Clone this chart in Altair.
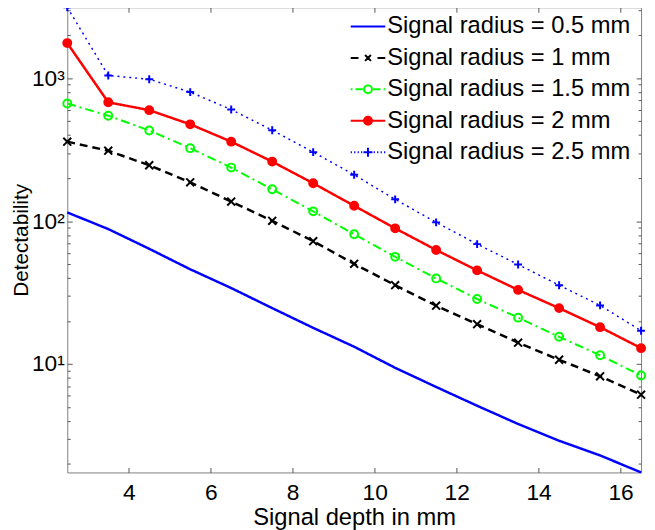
import altair as alt
import pandas as pd

depth = [2.5, 3.5, 4.5, 5.5, 6.5, 7.5, 8.5, 9.5, 10.5, 11.5, 12.5, 13.5, 14.5, 15.5, 16.5]
labels = ["Signal radius = 0.5 mm", "Signal radius = 1 mm", "Signal radius = 1.5 mm",
          "Signal radius = 2 mm", "Signal radius = 2.5 mm"]
r05 = [115, 88, 64, 46, 34, 24.6, 17.9, 13.2, 9.4, 6.9, 5.1, 3.8, 2.9, 2.29, 1.74]
r10 = [360, 311, 246, 187, 137, 100.5, 72.4, 50.2, 35.6, 25.6, 19.0, 14.1, 10.7, 8.2, 6.1]
r15 = [666, 547, 431, 324, 237, 167, 117, 80.9, 56.2, 39.7, 28.5, 21.1, 15.5, 11.5, 8.3]
r20 = [1763, 679, 598, 476, 360, 261, 184, 128, 89, 62.8, 45.2, 33, 24.6, 18.1, 12.9]
r25 = [3140, 1045, 985, 800, 604, 433, 304, 211, 142, 98, 69, 49.7, 35.6, 25.7, 17.1]

series_values = [r05, r10, r15, r20, r25]
colors = ["#0000ff", "#000000", "#00ff00", "#ff0000", "#0000ff"]
dashes = [[1, 0], [8, 5], [9, 4, 2, 4], [1, 0], [2, 4]]
widths = [2.5, 2.5, 2, 2.5, 1.5]
fills = ["transparent", "transparent", "transparent", "#ff0000", "transparent"]

# marker glyphs (unit box -1..1)
X_MARK = "M-1,-1L1,1M-1,1L1,-1"
PLUS = "M-1,0L1,0M0,-1L0,1"
plot_shapes = ["M0,0L0,0", X_MARK, "circle", "circle", PLUS]

# legend glyphs: line segment + marker in one path (unit box -1..1 == 35 px wide)
CIRC = "M0.23,0A0.23,0.23 0 1,1 -0.23,0A0.23,0.23 0 1,1 0.23,0Z"
legend_shapes = [
    "M-1,0L1,0",
    "M-1,0L-0.55,0M0.55,0L1,0M-0.17,-0.17L0.17,0.17M-0.17,0.17L0.17,-0.17",
    "M-1,0L-0.9,0M-0.72,0L-0.3,0M0.3,0L0.72,0M0.9,0L1,0" + CIRC,
    "M-1,0L1,0" + CIRC,
    "M-1,0L-0.93,0M-0.8,0L-0.73,0M-0.6,0L-0.53,0M-0.4,0L-0.33,0"
    "M0.33,0L0.4,0M0.53,0L0.6,0M0.73,0L0.8,0M0.93,0L1,0"
    "M-0.26,0L0.26,0M0,-0.26L0,0.26",
]

major_y = [10, 100, 1000]
minor_y = [2, 3, 4, 5, 6, 7, 8, 9, 20, 30, 40, 50, 60, 70, 80, 90,
           200, 300, 400, 500, 600, 700, 800, 900, 2000, 3000]
x_ticks = [4, 6, 8, 10, 12, 14, 16]

rows = []
for lab, vals in zip(labels, series_values):
    for d, v in zip(depth, vals):
        rows.append({"depth": d, "value": v, "series": lab})
df = pd.DataFrame(rows)

FONT = "Liberation Sans"
xscale = alt.Scale(nice=False, zero=False)
yscale = alt.Scale(type="log", nice=False)
tick_col = "#555555"

label_expr = "datum.value == 10 ? '10¹' : datum.value == 100 ? '10²' : '10³'"

base = alt.Chart(df)

lines = base.mark_line().encode(
    x=alt.X("depth:Q", scale=xscale,
            axis=alt.Axis(values=x_ticks, tickSize=5, offset=-5, domain=False, grid=False,
                          labelFontSize=23, labelPadding=9, labelColor="black",
                          tickColor=tick_col, title="Signal depth in mm", titleFontSize=24,
                          titleFontWeight="normal", titlePadding=2, titleColor="black")),
    y=alt.Y("value:Q", scale=yscale,
            axis=alt.Axis(values=major_y, labelExpr=label_expr, tickSize=5, offset=-5,
                          domain=False, grid=False, labelFontSize=23, labelPadding=3,
                          labelColor="black", tickColor=tick_col, title="Detectability",
                          titleFontSize=21, titleFontWeight="normal", titlePadding=0,
                          titleColor="black")),
    color=alt.Color("series:N", scale=alt.Scale(domain=labels, range=colors), legend=None),
    strokeDash=alt.StrokeDash("series:N", scale=alt.Scale(domain=labels, range=dashes), legend=None),
    strokeWidth=alt.StrokeWidth("series:N", scale=alt.Scale(type="ordinal", domain=labels, range=widths),
                                legend=None),
    order="depth:Q",
)

points = base.mark_point(size=64, strokeWidth=2, opacity=1).encode(
    x=alt.X("depth:Q", scale=xscale,
            axis=alt.Axis(orient="top", values=x_ticks, tickSize=5, offset=-5, domain=False,
                          grid=False, labels=False, title=None, tickColor=tick_col)),
    y=alt.Y("value:Q", scale=yscale,
            axis=alt.Axis(orient="right", values=major_y, tickSize=5, offset=-5, domain=False,
                          grid=False, labels=False, title=None, tickColor=tick_col)),
    shape=alt.Shape("series:N", scale=alt.Scale(domain=labels, range=plot_shapes), legend=None),
    stroke=alt.Stroke("series:N", scale=alt.Scale(domain=labels, range=colors), legend=None),
    fill=alt.Fill("series:N", scale=alt.Scale(domain=labels, range=fills), legend=None),
)

# invisible layer whose only job is the legend (line + marker glyphs) and left minor ticks
legend_layer = base.mark_point(opacity=0).encode(
    x=alt.X("depth:Q", scale=xscale, axis=None),
    y=alt.Y("value:Q", scale=yscale,
            axis=alt.Axis(values=minor_y, tickSize=3, offset=-3, domain=False, grid=False,
                          labels=False, title=None, tickColor=tick_col)),
    shape=alt.Shape("series:N", scale=alt.Scale(domain=labels, range=legend_shapes),
                    legend=alt.Legend(orient="none", legendX=286, legendY=1, title=None,
                                      symbolSize=1225, symbolStrokeWidth=2, symbolOpacity=1,
                                      labelFontSize=24, labelLimit=400, labelColor="black",
                                      rowPadding=0.8, padding=0, labelOffset=1)),
    stroke=alt.Stroke("series:N", scale=alt.Scale(domain=labels, range=colors)),
    fill=alt.Fill("series:N", scale=alt.Scale(domain=labels, range=fills)),
)

minor_right = base.mark_point(opacity=0).encode(
    x=alt.X("depth:Q", scale=xscale, axis=None),
    y=alt.Y("value:Q", scale=yscale,
            axis=alt.Axis(orient="right", values=minor_y, tickSize=3, offset=-3, domain=False,
                          grid=False, labels=False, title=None, tickColor=tick_col)),
)

chart = alt.layer(lines, points, legend_layer, minor_right).resolve_axis(
    x="independent", y="independent"
).resolve_scale(
    shape="independent", stroke="independent", fill="independent"
).properties(
    width=581, height=471,
    autosize=alt.AutoSizeParams(type="none"),
    padding={"left": 60, "top": -4, "right": 6, "bottom": 55},
).configure(font=FONT).configure_view(stroke="#808080", strokeWidth=1)

chart.save("out.html", embed_options={"renderer": "svg", "actions": False})
